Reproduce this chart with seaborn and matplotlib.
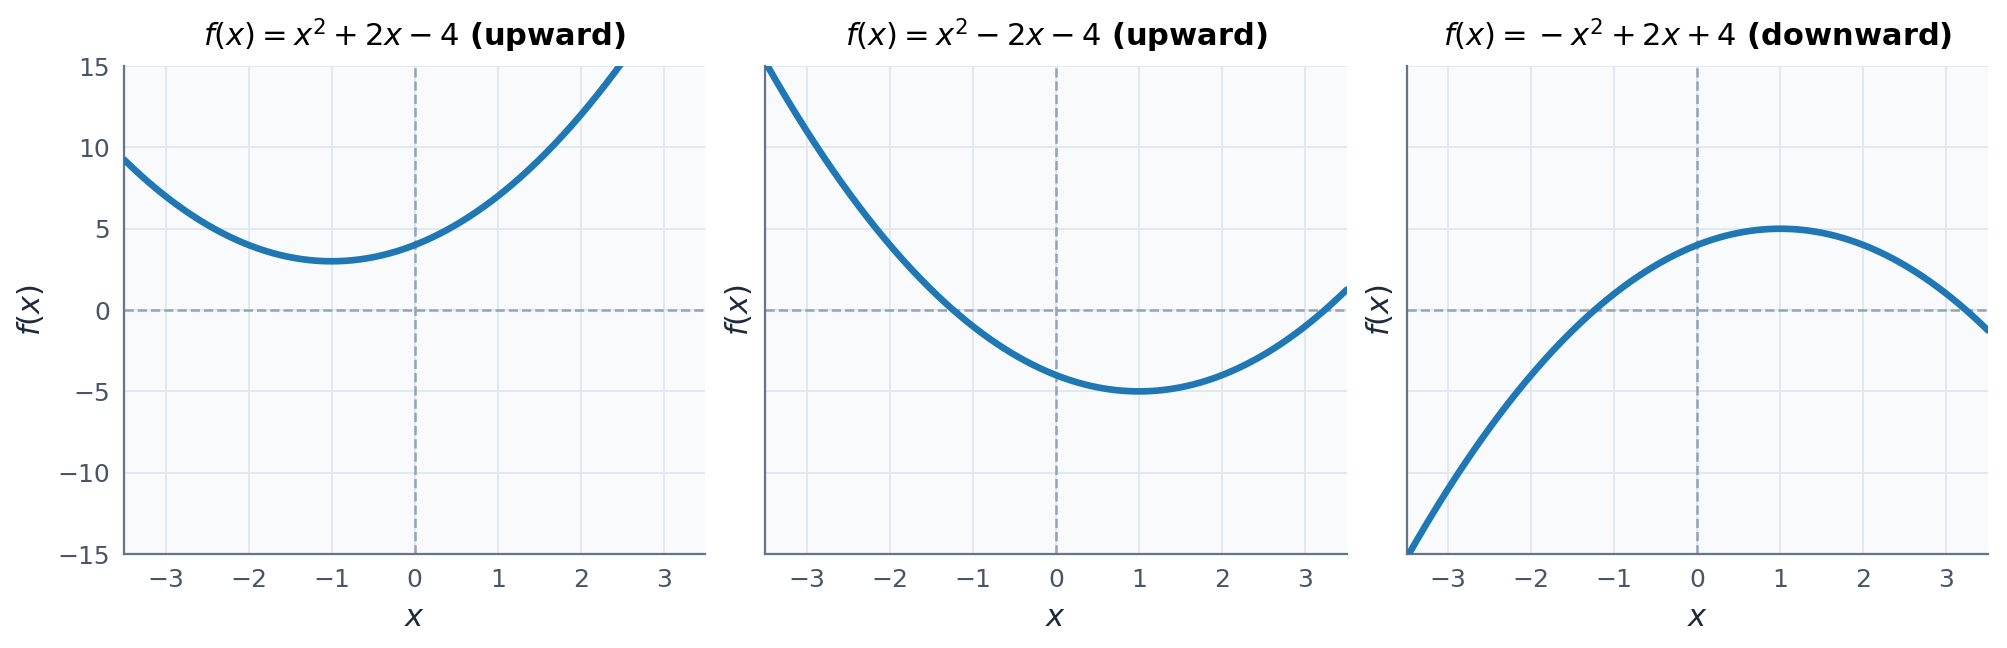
import numpy as np
import pandas as pd
import matplotlib
matplotlib.use("Agg")
import matplotlib.pyplot as plt
import seaborn as sns

# coefficients (a, b, c) of each curve as drawn, and the panel titles
coef_a = [1, 1, -1]
coef_b = [2, -2, 2]
coef_c = [4, -4, 4]
titles = [
    r"$f(x) = x^2 + 2x - 4$ (upward)",
    r"$f(x) = x^2 - 2x - 4$ (upward)",
    r"$f(x) = {}-x^2 + 2x + 4$ (downward)",
]
x_ticks = [-3, -2, -1, 0, 1, 2, 3]
y_ticks = [-15, -10, -5, 0, 5, 10, 15]

sns.set_style("whitegrid")
plt.rcParams["font.family"] = ["DejaVu Sans"]

x = np.linspace(-3.5, 3.5, 400)

fig, axes = plt.subplots(1, 3, figsize=(10.035, 3.24), dpi=200)
fig.subplots_adjust(left=0.0618, right=0.9905, bottom=0.145, top=0.898, wspace=0.103)

for i, ax in enumerate(axes):
    df = pd.DataFrame({"x": x, "y": coef_a[i] * x**2 + coef_b[i] * x + coef_c[i]})
    ax.set_facecolor("#f8fafc")
    ax.grid(True, color="#e2e8f0", linewidth=0.7)
    ax.axhline(0, color="#94a3b8", linestyle="--", linewidth=0.9, zorder=1.5)
    ax.axvline(0, color="#94a3b8", linestyle="--", linewidth=0.9, zorder=1.5)
    sns.lineplot(data=df, x="x", y="y", ax=ax, color="#1f77b4", linewidth=2.4, zorder=3)
    ax.set_xlim(-3.5, 3.5)
    ax.set_ylim(-15, 15)
    ax.set_xticks(x_ticks)
    ax.set_yticks(y_ticks)
    ax.set_title(titles[i], fontsize=11, fontweight="bold", color="black", pad=7)
    ax.set_xlabel("$x$", fontsize=11, color="#1e293b")
    ax.set_ylabel("$f(x)$", fontsize=11, color="#1e293b")
    ax.tick_params(length=0, labelsize=9, colors="#475569", pad=5)
    if i > 0:
        ax.tick_params(labelleft=False)
    for s in ["top", "right"]:
        ax.spines[s].set_visible(False)
    for s in ["left", "bottom"]:
        ax.spines[s].set_color("#64748b")
        ax.spines[s].set_linewidth(0.8)

fig.savefig("out.png", dpi=200)
